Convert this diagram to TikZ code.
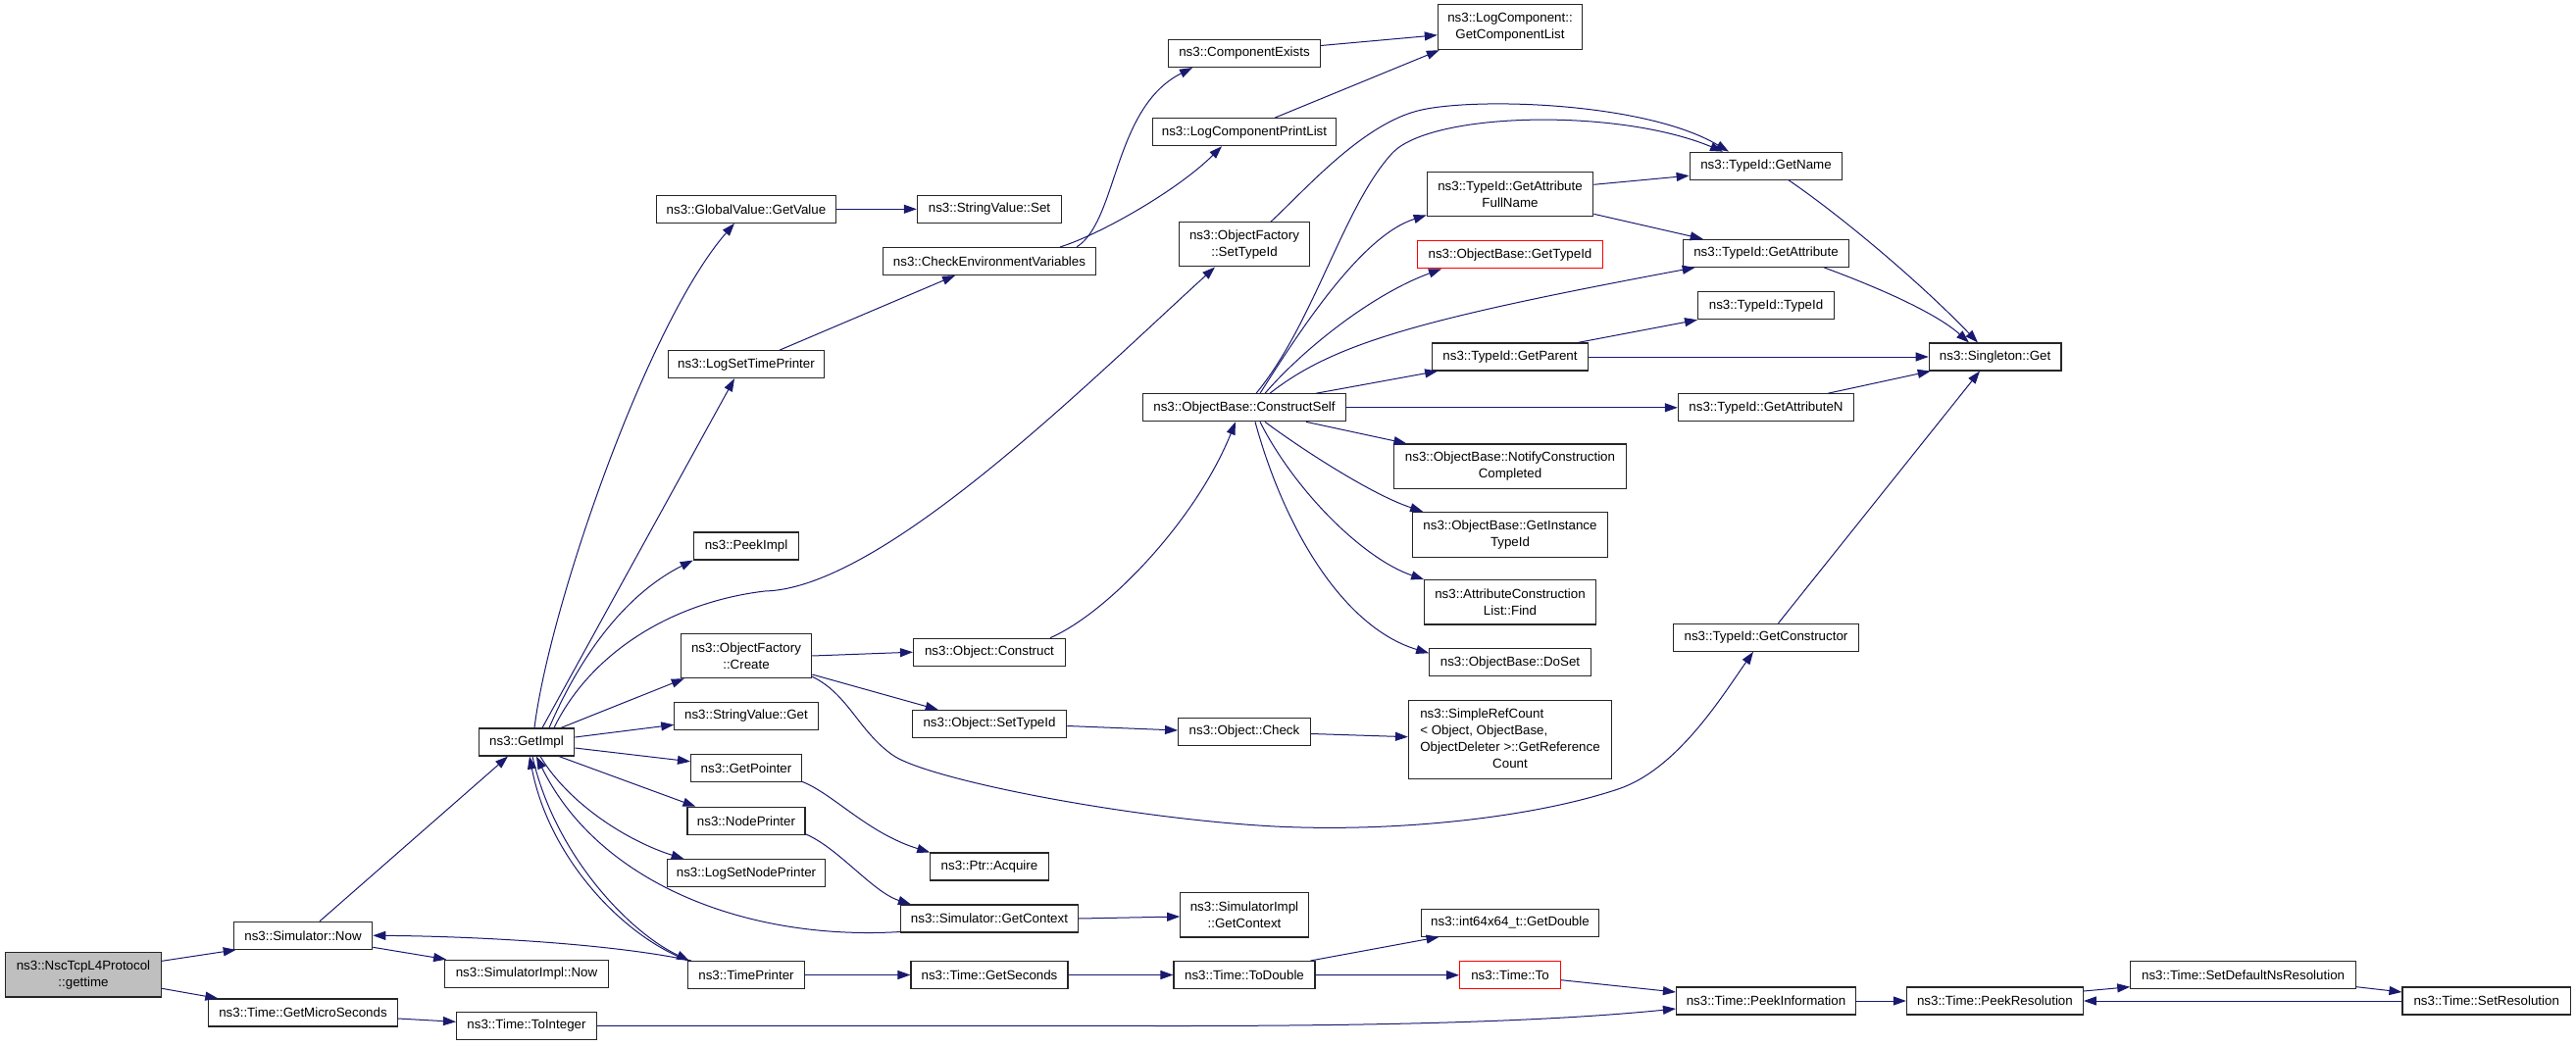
\documentclass[tikz,border=0pt]{standalone}
\usepackage{fontspec}
\setmainfont{Liberation Sans}
\usetikzlibrary{arrows.meta}
\definecolor{edgeblue}{HTML}{191970}
\begin{document}
\begin{tikzpicture}[x=1pt,y=-1pt,
  fn/.style={draw=black!85, line width=1.1pt, fill=white, inner sep=0pt, align=center,
    font=\fontsize{13.33}{17}\selectfont, text=black},
  sz/.style 2 args={minimum width=#1pt, minimum height=#2pt},
  root/.style={fn, fill=black!25},
  redfn/.style={fn, draw=red},
  edge/.style={draw=edgeblue, line width=1pt, -{Triangle[length=13pt,width=9pt]}},
]
\useasboundingbox (0,0) rectangle (2627,1067);
% ---- nodes ----
\node[root, sz={159}{45.3}] (gettime) at (85,994.3) {ns3::NscTcpL4Protocol\\::gettime};
\node[fn, sz={141.5}{28}] (simnow) at (309,954.3) {ns3::Simulator::Now};
\node[fn, sz={192.3}{28}] (getmicro) at (309,1033) {ns3::Time::GetMicroSeconds};
\node[fn, sz={97.6}{28}] (getimpl) at (537,757) {ns3::GetImpl};
\node[fn, sz={166.7}{28}] (simimplnow) at (537,993.2) {ns3::SimulatorImpl::Now};
\node[fn, sz={143}{28}] (tointeger) at (537,1046.3) {ns3::Time::ToInteger};
\node[fn, sz={182.7}{28}] (globalvalue) at (761,213.3) {ns3::GlobalValue::GetValue};
\node[fn, sz={158.7}{28}] (logsettime) at (761,371.7) {ns3::LogSetTimePrinter};
\node[fn, sz={107.4}{28}] (peekimpl) at (761,557) {ns3::PeekImpl};
\node[fn, sz={133.4}{45.3}] (ofcreate) at (761,669) {ns3::ObjectFactory\\::Create};
\node[fn, sz={146.5}{28}] (strget) at (761,730.3) {ns3::StringValue::Get};
\node[fn, sz={113}{28}] (getpointer) at (761,783.8) {ns3::GetPointer};
\node[fn, sz={120}{28}] (nodeprinter) at (761,837.3) {ns3::NodePrinter};
\node[fn, sz={161.7}{28}] (logsetnode) at (761,890.7) {ns3::LogSetNodePrinter};
\node[fn, sz={119}{28}] (timeprinter) at (761,994.5) {ns3::TimePrinter};
\node[fn, sz={147.3}{28}] (strset) at (1009,213.3) {ns3::StringValue::Set};
\node[fn, sz={216.3}{28}] (checkenv) at (1009,266.5) {ns3::CheckEnvironmentVariables};
\node[fn, sz={155}{28}] (objconstruct) at (1009,665.2) {ns3::Object::Construct};
\node[fn, sz={157.4}{28}] (objsettypeid) at (1009,738.5) {ns3::Object::SetTypeId};
\node[fn, sz={120.4}{28}] (ptracquire) at (1009,884) {ns3::Ptr::Acquire};
\node[fn, sz={181}{28}] (simgetctx) at (1009,937) {ns3::Simulator::GetContext};
\node[fn, sz={160}{28}] (getseconds) at (1009,994.5) {ns3::Time::GetSeconds};
\node[fn, sz={155}{28}] (compexists) at (1269,54.5) {ns3::ComponentExists};
\node[fn, sz={186.6}{28}] (logcompprint) at (1269,134.7) {ns3::LogComponentPrintList};
\node[fn, sz={133.6}{45.3}] (ofsettypeid) at (1269,249.3) {ns3::ObjectFactory\\::SetTypeId};
\node[fn, sz={206.8}{28}] (constructself) at (1269,415.8) {ns3::ObjectBase::ConstructSelf};
\node[fn, sz={134.8}{28}] (objcheck) at (1269,746.5) {ns3::Object::Check};
\node[fn, sz={130.6}{45.3}] (simimplctx) at (1269,933.3) {ns3::SimulatorImpl\\::GetContext};
\node[fn, sz={144}{28}] (todouble) at (1269,994.5) {ns3::Time::ToDouble};
\node[fn, sz={147.3}{45.7}] (getcomplist) at (1540,27.8) {ns3::LogComponent::\\GetComponentList};
\node[fn, sz={169.6}{45.3}] (getattrfull) at (1540,198.3) {ns3::TypeId::GetAttribute\\FullName};
\node[redfn, sz={189}{28}] (obgettypeid) at (1540,259.8) {ns3::ObjectBase::GetTypeId};
\node[fn, sz={158.7}{28}] (getparent) at (1540,364) {ns3::TypeId::GetParent};
\node[fn, sz={236.2}{45.7}] (notify) at (1540,475.8) {ns3::ObjectBase::NotifyConstruction\\Completed};
\node[fn, sz={198.7}{45.7}] (getinst) at (1540,545.2) {ns3::ObjectBase::GetInstance\\TypeId};
\node[fn, sz={174.7}{45.3}] (acfind) at (1540,614.3) {ns3::AttributeConstruction\\List::Find};
\node[fn, sz={164.6}{28}] (doset) at (1540,675.8) {ns3::ObjectBase::DoSet};
\node[fn, sz={207.1}{80}] (simpleref) at (1540,754.7) {\begin{tabular}{@{}l@{}}ns3::SimpleRefCount\\{}< Object, ObjectBase,\\\multicolumn{1}{@{}c@{}}{ObjectDeleter >::GetReference}\\\multicolumn{1}{@{}c@{}}{Count}\end{tabular}};
\node[fn, sz={181.8}{28}] (getdouble) at (1540,941.2) {ns3::int64x64\_t::GetDouble};
\node[redfn, sz={102.7}{28}] (timeto) at (1540,994.7) {ns3::Time::To};
\node[fn, sz={155.7}{28}] (getname) at (1801,169.2) {ns3::TypeId::GetName};
\node[fn, sz={169.6}{28}] (getattr) at (1801,258.3) {ns3::TypeId::GetAttribute};
\node[fn, sz={138.9}{28}] (typeid) at (1801,311.7) {ns3::TypeId::TypeId};
\node[fn, sz={179.3}{28}] (getattrn) at (1801,415.8) {ns3::TypeId::GetAttributeN};
\node[fn, sz={188.2}{28}] (getctor) at (1801,650.3) {ns3::TypeId::GetConstructor};
\node[fn, sz={183.1}{28}] (peekinfo) at (1801,1021) {ns3::Time::PeekInformation};
\node[fn, sz={134.7}{28}] (singleton) at (2034.6,364) {ns3::Singleton::Get};
\node[fn, sz={180}{28}] (peekres) at (2034.4,1021) {ns3::Time::PeekResolution};
\node[fn, sz={229.7}{28}] (setdefns) at (2287.6,994.7) {ns3::Time::SetDefaultNsResolution};
\node[fn, sz={171.4}{28}] (setres) at (2535.7,1021) {ns3::Time::SetResolution};
% ---- edges ----
\draw[edge] ([yshift=14pt]gettime.east) -- ([xshift=3pt]simnow.south west);
\draw[edge] ([yshift=-14pt]gettime.east) -- ([xshift=10pt]getmicro.north west);
\draw[edge] ([xshift=17pt]simnow.north) -- ([xshift=-19pt]getimpl.south);
\draw[edge] ([yshift=-12pt]simnow.east) -- ([xshift=2pt]simimplnow.north west);
\draw[edge] ([yshift=-6pt]getmicro.east) -- ([yshift=4pt]tointeger.west);
\draw[edge] (tointeger.east) -- (1200,1046.5) .. controls (1450,1046.5) and (1600,1040) .. ([yshift=-8pt]peekinfo.west);
\draw[edge] ([xshift=4pt]timeprinter.north west) .. controls (620,962) and (480,955) .. (simnow.east);
\draw[edge] ([xshift=6pt]getimpl.south) .. controls (565,870) and (640,950) .. ([xshift=2pt]timeprinter.north west);
\draw[edge] ([xshift=1pt]timeprinter.north west) .. controls (635,955) and (560,875) .. ([xshift=3pt]getimpl.south);
\draw[edge] ([yshift=1pt]simgetctx.south west) .. controls (760,960) and (610,900) .. ([xshift=10pt]getimpl.south);
\draw[edge] ([xshift=14pt]getimpl.south) .. controls (580,820) and (640,858) .. ([xshift=18pt]logsetnode.north west);
\draw[edge] ([xshift=33pt]getimpl.south) -- ([xshift=9pt]nodeprinter.north west);
\draw[edge] ([yshift=-6pt]getimpl.east) -- ([yshift=7pt]getpointer.west);
\draw[edge] ([yshift=5pt]getimpl.east) -- ([yshift=-9pt]strget.west);
\draw[edge] ([xshift=35pt]getimpl.north) -- ([xshift=4pt]ofcreate.south west);
\draw[edge] ([xshift=28pt]getimpl.north) .. controls (600,670) and (680,615) .. (780,603) .. controls (900,600) and (1110,390) .. ([xshift=-30pt]ofsettypeid.south);
\draw[edge] ([xshift=23pt]getimpl.north) .. controls (600,650) and (650,600) .. (peekimpl.south west);
\draw[edge] ([xshift=16pt]getimpl.north) -- ([xshift=-12pt]logsettime.south);
\draw[edge] ([xshift=8pt]getimpl.north) .. controls (560,620) and (660,330) .. ([xshift=-12pt]globalvalue.south);
\draw[edge] (globalvalue.east) -- (strset.west);
\draw[edge] ([xshift=34pt]logsettime.north) -- ([xshift=-35pt]checkenv.south);
\draw[edge] ([xshift=89pt]checkenv.north) .. controls (1140,225) and (1135,110) .. ([xshift=-53pt]compexists.south);
\draw[edge] ([xshift=72pt]checkenv.north) .. controls (1120,240) and (1200,195) .. ([xshift=-23pt]logcompprint.south);
\draw[edge] ([yshift=8pt]compexists.east) -- ([yshift=-8pt]getcomplist.west);
\draw[edge] ([xshift=31pt]logcompprint.north) -- ([xshift=2pt]getcomplist.south west);
\draw[edge] ([xshift=27pt]ofsettypeid.north) .. controls (1330,195) and (1390,125) .. (1450,112) .. controls (1510,99) and (1680,105) .. ([xshift=-38pt]getname.north);
\draw[edge] ([xshift=12pt]constructself.north) .. controls (1340,330) and (1370,210) .. (1420,156) .. controls (1460,114) and (1650,110) .. ([xshift=-44pt]getname.north);
\draw[edge] ([xshift=16pt]constructself.north) .. controls (1330,330) and (1390,240) .. ([yshift=2pt]getattrfull.south west);
\draw[edge] ([xshift=21pt]constructself.north) .. controls (1330,355) and (1400,300) .. ([xshift=25pt]obgettypeid.south west);
\draw[edge] ([xshift=26pt]constructself.north) .. controls (1360,350) and (1450,325) .. ([xshift=13pt]getattr.south west);
\draw[edge] ([xshift=73pt]constructself.north) -- ([xshift=6pt]getparent.south west);
\draw[edge] (constructself.east) -- (getattrn.west);
\draw[edge] ([xshift=63pt]constructself.south) -- ([xshift=13pt]notify.north west);
\draw[edge] ([xshift=21pt]constructself.south) .. controls (1330,460) and (1400,505) .. ([xshift=11pt]getinst.north west);
\draw[edge] ([xshift=16pt]constructself.south) .. controls (1320,500) and (1390,570) .. (acfind.north west);
\draw[edge] ([xshift=11pt]constructself.south) .. controls (1310,540) and (1370,640) .. ([yshift=-5pt]doset.north west);
\draw[edge] ([yshift=10pt]getattrfull.east) -- ([yshift=-10pt]getname.west);
\draw[edge] ([yshift=-20pt]getattrfull.east) -- ([xshift=21pt]getattr.north west);
\draw[edge] ([xshift=23pt]getname.south) .. controls (1880,222) and (1960,290) .. ([xshift=-17.6pt]singleton.north);
\draw[edge] ([xshift=59pt]getattr.south) .. controls (1920,295) and (1975,320) .. ([xshift=-26.6pt]singleton.north);
\draw[edge] ([xshift=69pt]getparent.north) -- (typeid.south west);
\draw[edge] (getparent.east) -- (singleton.west);
\draw[edge] ([xshift=63pt]getattrn.north) -- ([xshift=2pt]singleton.south west);
\draw[edge] ([xshift=12.5pt]getctor.north) -- ([xshift=-15.6pt]singleton.south);
\draw[edge] (ofcreate.east) -- (objconstruct.west);
\draw[edge] ([yshift=-19pt]ofcreate.east) -- ([xshift=27pt]objsettypeid.north west);
\draw[edge] ([yshift=2pt]ofcreate.south east) .. controls (865,708) and (875,745) .. (910,770) .. controls (945,795) and (1150,835) .. (1300,843) .. controls (1420,849) and (1560,835) .. (1650,805) .. controls (1710,785) and (1755,712) .. ([xshift=-13pt]getctor.south);
\draw[edge] ([xshift=62pt]objconstruct.north) .. controls (1130,625) and (1220,530) .. ([xshift=-9pt]constructself.south);
\draw[edge] ([yshift=-2pt]objsettypeid.east) -- ([yshift=1.5pt]objcheck.west);
\draw[edge] ([yshift=-2pt]objcheck.east) -- ([yshift=3pt]simpleref.west);
\draw[edge] ([yshift=1pt]getpointer.south east) .. controls (850,810) and (885,850) .. (ptracquire.north west);
\draw[edge] ([yshift=1pt]nodeprinter.south east) .. controls (855,865) and (890,910) .. ([xshift=11pt]simgetctx.north west);
\draw[edge] (simgetctx.east) -- ([yshift=-1.7pt]simimplctx.west);
\draw[edge] (timeprinter.east) -- (getseconds.west);
\draw[edge] (getseconds.east) -- (todouble.west);
\draw[edge] ([xshift=-5pt]todouble.north east) -- ([xshift=19pt]getdouble.south west);
\draw[edge] (todouble.east) -- (timeto.west);
\draw[edge] ([yshift=-5pt]timeto.east) -- ([yshift=9pt]peekinfo.west);
\draw[edge] (peekinfo.east) -- (peekres.west);
\draw[edge] ([yshift=10pt]peekres.east) -- ([yshift=-12pt]setdefns.west);
\draw[edge] ([yshift=-12pt]setdefns.east) -- ([yshift=9pt]setres.west);
\draw[edge] (setres.west) -- (peekres.east);
\end{tikzpicture}
\end{document}
